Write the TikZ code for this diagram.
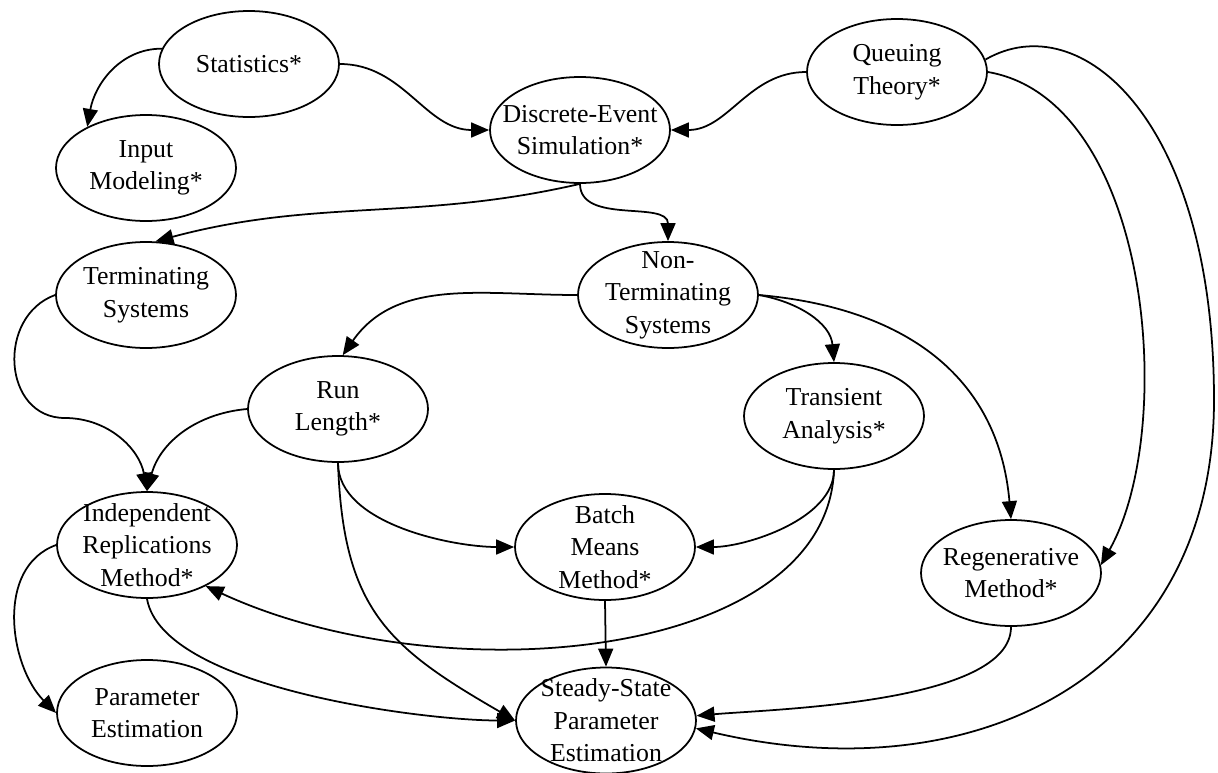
\documentclass[tikz,border=0pt]{standalone}
\usepackage{fontspec}
\setmainfont{Liberation Serif}
\usetikzlibrary{shapes.geometric,arrows.meta}

\begin{document}
\begin{tikzpicture}[
  topic/.style={draw, ellipse, line width=1pt, minimum width=3.6cm, minimum height=2.12cm,
    inner xsep=-0.4cm, inner ysep=-0.5cm, align=center, font=\fontsize{14.7}{18.5}\selectfont},
  link/.style={-{Triangle[length=0.36cm,width=0.3cm]}, line width=1pt}
]
\useasboundingbox (0,0) rectangle (24.36,-15.44);

\node[topic] (stat) at (4.98,-1.28) {Statistics*};
\node[topic] (input) at (2.92,-3.36) {Input\\Modeling*};
\node[topic] (des) at (11.6,-2.6) {Discrete-Event\\Simulation*};
\node[topic] (queue) at (17.94,-1.44) {Queuing\\Theory*};
\node[topic] (term) at (2.92,-5.9) {Terminating\\Systems};
\node[topic] (nonterm) at (13.36,-5.9) {Non-\\Terminating\\Systems};
\node[topic] (run) at (6.76,-8.18) {Run\\Length*};
\node[topic] (trans) at (16.68,-8.32) {Transient\\Analysis*};
\node[topic] (indep) at (2.94,-10.9) {Independent\\Replications\\Method*};
\node[topic] (batch) at (12.1,-10.94) {Batch\\Means\\Method*};
\node[topic] (regen) at (20.22,-11.46) {Regenerative\\Method*};
\node[topic] (param) at (2.94,-14.26) {Parameter\\Estimation};
\node[topic] (steady) at (12.12,-14.41) {Steady-State\\Parameter\\Estimation};

\coordinate (tbend) at (1.3,-8.36);
\coordinate (qbend) at (24.28,-8);

% top row
\draw[link] (stat.170) to[out=180,in=80] (input.145);
\draw[link] (stat.east) to[out=0,in=180] (des.west);
\draw[link] (queue.west) to[out=180,in=0] (des.east);
\draw[link] (des.south) to[out=193,in=15] (term.80);
\draw[link] (des.south) to[out=-90,in=90] (nonterm.north);

% systems
\draw[link] (nonterm.west) to[out=180,in=55] (run.85);
\draw[link] (nonterm.east) to[out=-10,in=95] (trans.north);
\draw[link] (nonterm.east) to[out=-5,in=95,looseness=1.1] (regen.north);
\draw[link] (term.west) to[out=200,in=180,looseness=1.3] (tbend) to[out=0,in=100] (indep.north);
\draw[link] (run.west) to[out=185,in=75] (indep.north);

% methods
\draw[link] (run.south) to[out=-90,in=180,looseness=0.8] (batch.west);
\draw[link] (run.south) to[out=-88,in=150,looseness=1.2] (steady.west);
\draw[link] (trans.south) to[out=-90,in=0,looseness=0.8] (batch.east);
\draw[link] (trans.south) .. controls +(-0.14,-3.8) and +(4.76,-2.2) .. (indep.-35);
\draw[link] (indep.west) to[out=200,in=135] (param.west);
\draw[link] (indep.south) to[out=-80,in=180,looseness=0.6] (steady.west);
\draw[link] (batch.south) -- (steady.north);
\draw[link] (regen.south) to[out=-90,in=5,looseness=0.6] (steady.3);

% queuing theory
\draw[link] (queue.east) .. controls +(3.26,-0.56) and +(1.54,2.74) .. (regen.5);
\draw[link] (queue.8) .. controls +(1.9,1.1) and +(0,5.6) .. (qbend)
  .. controls +(0,-5.6) and +(5.5,-1.3) .. (steady.-5);
\end{tikzpicture}
\end{document}
